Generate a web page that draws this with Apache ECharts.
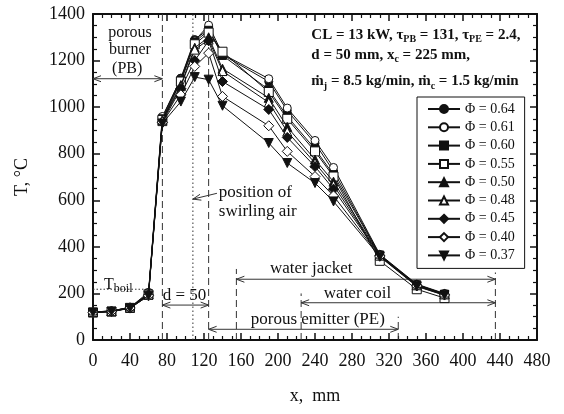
<!DOCTYPE html>
<html>
<head>
<meta charset="utf-8">
<script src="https://cdn.jsdelivr.net/npm/echarts@6/dist/echarts.min.js"></script>
<style>
  html, body { margin: 0; padding: 0; background: #fff; }
  #chart { width: 564px; height: 414px; }
</style>
</head>
<body>
<div id="chart"></div>
<script>
// Axial temperature profiles along the burner for several equivalence ratios
const positions = [0, 20, 40, 60, 75, 95, 110, 125, 140, 190, 210, 240, 260, 310, 350, 380];

const phi064 = [120, 125, 140, 200, 955, 1125, 1290, 1335, 1225, 1110, 985, 845, 725, 365, 238, 198];
const phi061 = [120, 125, 140, 205, 960, 1120, 1285, 1352, 1228, 1122, 996, 857, 741, 368, 240, 200];
const phi060 = [118, 122, 138, 198, 950, 1115, 1280, 1330, 1222, 1075, 960, 820, 710, 365, 237, 197];
const phi055 = [118, 122, 138, 195, 945, 1110, 1270, 1320, 1238, 1065, 950, 810, 702, 340, 218, 180];
const phi050 = [120, 124, 140, 195, 945, 1095, 1255, 1300, 1165, 1040, 915, 775, 680, 365, 236, 197];
const phi048 = [120, 124, 140, 195, 940, 1090, 1247, 1290, 1155, 1020, 895, 760, 665, 362, 235, 196];
const phi045 = [120, 123, 138, 193, 935, 1080, 1200, 1285, 1110, 990, 870, 745, 648, 362, 234, 195];
const phi040 = [118, 122, 137, 190, 935, 1053, 1175, 1232, 1046, 920, 810, 702, 619, 360, 232, 193];
const phi037 = [118, 122, 136, 190, 930, 1024, 1129, 1118, 1006, 846, 760, 674, 595, 358, 230, 192];

const seriesNames = ['Φ = 0.64', 'Φ = 0.61', 'Φ = 0.60', 'Φ = 0.55', 'Φ = 0.50',
                     'Φ = 0.48', 'Φ = 0.45', 'Φ = 0.40', 'Φ = 0.37'];
const seriesValues = [phi064, phi061, phi060, phi055, phi050, phi048, phi045, phi040, phi037];

// marker shape, filled or hollow, rotation
const markers = [
  { symbol: 'circle',   filled: true,  size: 8 },
  { symbol: 'circle',   filled: false, size: 8 },
  { symbol: 'rect',     filled: true,  size: 8 },
  { symbol: 'rect',     filled: false, size: 9 },
  { symbol: 'triangle', filled: true,  size: 9 },
  { symbol: 'triangle', filled: false, size: 9 },
  { symbol: 'diamond',  filled: true,  size: 10 },
  { symbol: 'diamond',  filled: false, size: 10 },
  { symbol: 'triangle', filled: true,  size: 9, rotate: 180 }
];

const xTicks = { min: 0, max: 480, step: 40 };
const yTicks = { min: 0, max: 1400, step: 200 };

const FONT = '"Liberation Serif", "Times New Roman", serif';
const INK = '#111';

const chart = echarts.init(document.getElementById('chart'), null, { renderer: 'canvas' });

const frameAxis = (extra) => Object.assign({
  type: 'value',
  axisLine: { show: true, onZero: false, lineStyle: { color: INK, width: 2 } },
  axisTick: { show: true, inside: true, length: 7, lineStyle: { color: INK, width: 1.5 } },
  minorTick: { show: true, splitNumber: 4, length: 4, lineStyle: { color: INK, width: 1.2 } },
  splitLine: { show: false },
  minorSplitLine: { show: false }
}, extra);

const series = seriesValues.map((vals, i) => {
  const m = markers[i];
  return {
    type: 'line',
    name: seriesNames[i],
    data: positions.map((x, k) => [x, vals[k]]),
    symbol: m.symbol,
    symbolSize: m.size,
    symbolRotate: m.rotate || 0,
    showAllSymbol: true,
    lineStyle: { color: INK, width: 1 },
    itemStyle: { color: m.filled ? INK : '#fff', borderColor: INK, borderWidth: 1 },
    emphasis: { disabled: true },
    z: 10 + i
  };
});

chart.setOption({
  animation: false,
  backgroundColor: '#fff',
  grid: { left: 93, right: 27, top: 14, bottom: 74 },
  xAxis: [
    frameAxis({
      min: xTicks.min, max: xTicks.max, interval: xTicks.step, position: 'bottom',
      axisLabel: { color: INK, fontFamily: FONT, fontSize: 18, margin: 12, formatter: v => String(v) },
      name: 'x,  mm', nameLocation: 'middle', nameGap: 47,
      nameTextStyle: { color: INK, fontFamily: FONT, fontSize: 18 }
    }),
    frameAxis({
      min: xTicks.min, max: xTicks.max, interval: xTicks.step, position: 'top',
      axisLabel: { show: false }
    })
  ],
  yAxis: [
    frameAxis({
      min: yTicks.min, max: yTicks.max, interval: yTicks.step, position: 'left',
      axisLabel: { color: INK, fontFamily: FONT, fontSize: 18, margin: 8, formatter: v => String(v) },
      name: 'T, °C', nameLocation: 'middle', nameGap: 62, nameRotate: 90,
      nameTextStyle: { color: INK, fontFamily: FONT, fontSize: 18 }
    }),
    frameAxis({
      min: yTicks.min, max: yTicks.max, interval: yTicks.step, position: 'right',
      axisLabel: { show: false }
    })
  ],
  legend: {
    orient: 'vertical',
    left: 417, top: 97,
    padding: [5, 10, 6, 10],
    itemWidth: 32, itemHeight: 10, itemGap: 4.3,
    backgroundColor: '#fff',
    borderColor: INK, borderWidth: 1, borderRadius: 0,
    textStyle: { color: INK, fontFamily: FONT, fontSize: 14, lineHeight: 14 },
    data: seriesNames,
    selectedMode: false
  },
  series: series
});

// ---- annotations in data space ----
const guideLines = [
  { x: 75,  y0: 0, y1: 1400, dash: [7, 4] },
  { x: 125, y0: 0, y1: 1400, dash: [7, 4] },
  { x: 108, y0: 0, y1: 1400, dash: [1.5, 2.5] },
  { x: 155, y0: 0, y1: 305,  dash: [7, 4] },
  { x: 225, y0: 0, y1: 200,  dash: [7, 4] },
  { x: 330, y0: 0, y1: 100,  dash: [7, 4] },
  { x: 435, y0: 0, y1: 290,  dash: [7, 4] }
];
const spans = [
  { x0: 0,   x1: 75,  y: 1122 },
  { x0: 75,  x1: 125, y: 150 },
  { x0: 155, x1: 435, y: 261 },
  { x0: 225, x1: 435, y: 160 },
  { x0: 125, x1: 330, y: 46 }
];
const boilLevel = { x0: 0, x1: 60, y: 218 };
const swirlPointer = { from: [134, 630], to: [108, 605] };

const labels = [
  { x: 40,  y: 1318, text: 'porous', size: 16 },
  { x: 40,  y: 1247, text: 'burner', size: 16 },
  { x: 37,  y: 1164, text: '(PB)', size: 16 },
  { x: 99,  y: 193,  text: 'd = 50', size: 17 },
  { x: 236, y: 308,  text: 'water jacket', size: 17 },
  { x: 286, y: 201,  text: 'water coil', size: 17 },
  { x: 243, y: 89,   text: 'porous emitter (PE)', size: 17 },
  { x: 136, y: 632,  text: 'position of', size: 17, align: 'left' },
  { x: 136, y: 550,  text: 'swirling air', size: 17, align: 'left' }
];

const px = (x, y) => chart.convertToPixel({ xAxisIndex: 0, yAxisIndex: 0 }, [x, y]);
const LINE_INK = '#333';
const graphics = [];

guideLines.forEach(g => {
  const a = px(g.x, g.y0), b = px(g.x, g.y1);
  graphics.push({
    type: 'line', silent: true, z: 5,
    shape: { x1: a[0], y1: a[1], x2: b[0], y2: b[1] },
    style: { stroke: LINE_INK, lineWidth: 1, lineDash: g.dash }
  });
});

function arrowHead(tip, dx, dy) {
  const len = Math.hypot(dx, dy), ux = dx / len, uy = dy / len;
  const L = 8, W = 3;
  return {
    type: 'polyline', silent: true, z: 6,
    shape: { points: [
      [tip[0] - ux * L - uy * W, tip[1] - uy * L + ux * W],
      tip,
      [tip[0] - ux * L + uy * W, tip[1] - uy * L - ux * W]
    ] },
    style: { stroke: LINE_INK, lineWidth: 1, fill: null }
  };
}

spans.forEach(s => {
  const a = px(s.x0, s.y), b = px(s.x1, s.y);
  graphics.push({
    type: 'line', silent: true, z: 6,
    shape: { x1: a[0], y1: a[1], x2: b[0], y2: b[1] },
    style: { stroke: LINE_INK, lineWidth: 1 }
  });
  graphics.push(arrowHead(a, a[0] - b[0], 0));
  graphics.push(arrowHead(b, b[0] - a[0], 0));
});

{
  const a = px(boilLevel.x0, boilLevel.y), b = px(boilLevel.x1, boilLevel.y);
  graphics.push({
    type: 'line', silent: true, z: 5,
    shape: { x1: a[0], y1: a[1], x2: b[0], y2: b[1] },
    style: { stroke: LINE_INK, lineWidth: 1, lineDash: [1.5, 2] }
  });
  const t = px(12, 236);
  graphics.push({
    type: 'text', silent: true, z: 7, x: t[0], y: t[1],
    style: {
      text: 'T{sub|boil}', fill: INK, font: '16px ' + FONT,
      align: 'left', verticalAlign: 'middle', lineHeight: 20,
      rich: { sub: { fill: INK, font: '12px ' + FONT, verticalAlign: 'bottom', lineHeight: 12 } }
    }
  });
}

{
  const a = px(swirlPointer.from[0], swirlPointer.from[1]);
  const b = px(swirlPointer.to[0], swirlPointer.to[1]);
  graphics.push({
    type: 'line', silent: true, z: 6,
    shape: { x1: a[0], y1: a[1], x2: b[0], y2: b[1] },
    style: { stroke: LINE_INK, lineWidth: 1 }
  });
  graphics.push(arrowHead(b, b[0] - a[0], b[1] - a[1]));
}

labels.forEach(l => {
  const p = px(l.x, l.y);
  graphics.push({
    type: 'text', silent: true, z: 7, x: p[0], y: p[1],
    style: {
      text: l.text, fill: INK, font: l.size + 'px ' + FONT,
      align: l.align || 'center', verticalAlign: 'middle'
    }
  });
});

// operating conditions block
const condLines = [
  { y: 1311, text: 'CL = 13 kW, τ{sub|PB} = 131, τ{sub|PE} = 2.4,' },
  { y: 1225, text: 'd = 50 mm, x{sub|c} = 225 mm,' },
  { y: 1110, text: 'ṁ{sub|j} = 8.5 kg/min, ṁ{sub|c} = 1.5 kg/min' }
];
condLines.forEach(c => {
  const p = px(236, c.y);
  graphics.push({
    type: 'text', silent: true, z: 7, x: p[0], y: p[1],
    style: {
      text: c.text, fill: INK, font: 'bold 15px ' + FONT,
      align: 'left', verticalAlign: 'middle', lineHeight: 20,
      rich: { sub: { fill: INK, font: 'bold 10px ' + FONT, verticalAlign: 'bottom', lineHeight: 10 } }
    }
  });
});

chart.setOption({ graphic: graphics });
</script>
</body>
</html>
